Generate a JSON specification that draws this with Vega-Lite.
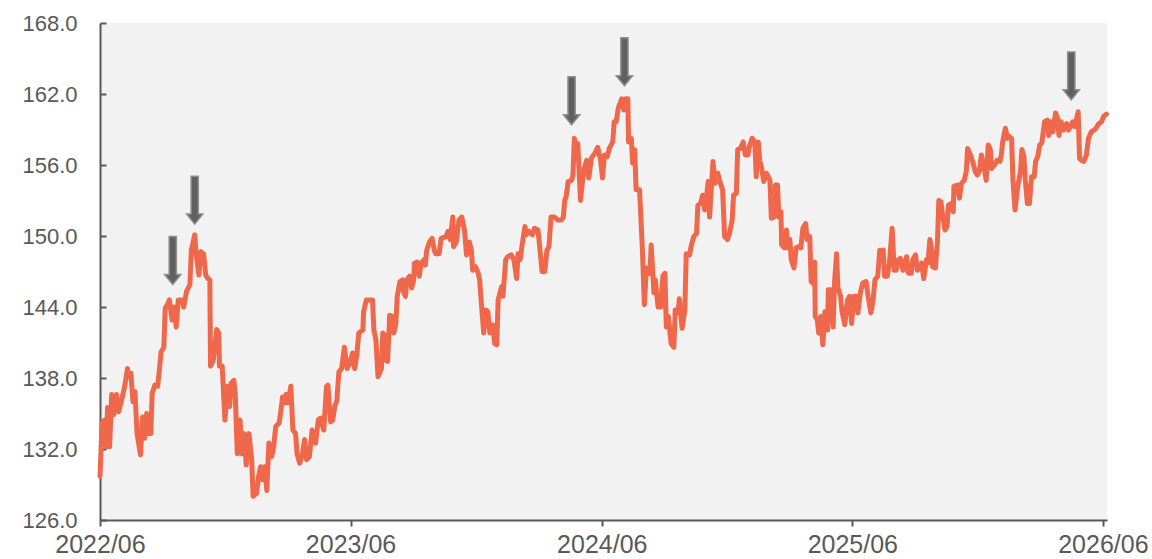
{
 "$schema": "https://vega.github.io/schema/vega-lite/v6.json",
 "width": 1007,
 "height": 497,
 "autosize": {"type": "none"},
 "padding": {"left": 100, "top": 23, "right": 45, "bottom": 39},
 "background": "white",
 "config": {"view": {"fill": "#f2f2f2", "stroke": null}, "font": "Liberation Sans"},
 "datasets": {
  "series": [
{"date":"2022-06-01","value":129.7},{"date":"2022-06-04","value":134.2},{"date":"2022-06-08","value":134.45},{"date":"2022-06-10","value":132.2},{"date":"2022-06-12","value":135.5},{"date":"2022-06-15","value":132.2},{"date":"2022-06-18","value":136.6},{"date":"2022-06-21","value":134.9},{"date":"2022-06-25","value":136.6},{"date":"2022-06-28","value":135.15},
{"date":"2022-07-02","value":136.0},{"date":"2022-07-07","value":137.3},{"date":"2022-07-11","value":138.8},{"date":"2022-07-13","value":138.1},{"date":"2022-07-16","value":138.4},{"date":"2022-07-19","value":136.0},{"date":"2022-07-22","value":136.85},{"date":"2022-07-25","value":133.3},{"date":"2022-07-30","value":131.5},
{"date":"2022-08-02","value":134.7},{"date":"2022-08-05","value":132.9},{"date":"2022-08-08","value":135.0},{"date":"2022-08-10","value":133.3},{"date":"2022-08-14","value":133.3},{"date":"2022-08-16","value":136.7},{"date":"2022-08-20","value":137.4},{"date":"2022-08-24","value":137.3},{"date":"2022-08-27","value":139.0},{"date":"2022-08-29","value":140.2},
{"date":"2022-09-02","value":140.6},{"date":"2022-09-04","value":143.9},{"date":"2022-09-08","value":144.3},{"date":"2022-09-10","value":144.6},{"date":"2022-09-14","value":142.9},{"date":"2022-09-17","value":144.0},{"date":"2022-09-20","value":142.3},{"date":"2022-09-23","value":144.6},{"date":"2022-09-28","value":144.6},
{"date":"2022-10-01","value":144.0},{"date":"2022-10-05","value":145.3},{"date":"2022-10-10","value":145.9},{"date":"2022-10-12","value":148.8},{"date":"2022-10-17","value":150.1},{"date":"2022-10-19","value":148.5},{"date":"2022-10-23","value":146.7},{"date":"2022-10-26","value":148.7},{"date":"2022-10-27","value":148.25},{"date":"2022-10-30","value":148.5},
{"date":"2022-11-02","value":146.7},{"date":"2022-11-05","value":146.4},{"date":"2022-11-08","value":146.3},{"date":"2022-11-09","value":139.0},{"date":"2022-11-13","value":139.5},{"date":"2022-11-18","value":142.1},{"date":"2022-11-21","value":141.8},{"date":"2022-11-22","value":139.0},{"date":"2022-11-26","value":139.0},{"date":"2022-11-30","value":134.45},
{"date":"2022-12-04","value":137.3},{"date":"2022-12-07","value":135.6},{"date":"2022-12-09","value":137.55},{"date":"2022-12-13","value":137.8},{"date":"2022-12-15","value":136.7},{"date":"2022-12-18","value":131.6},{"date":"2022-12-22","value":134.45},{"date":"2022-12-25","value":131.6},{"date":"2022-12-28","value":133.3},{"date":"2022-12-31","value":130.65},
{"date":"2023-01-04","value":133.3},{"date":"2023-01-08","value":131.1},{"date":"2023-01-10","value":128.0},{"date":"2023-01-15","value":128.25},{"date":"2023-01-18","value":129.65},{"date":"2023-01-21","value":130.5},{"date":"2023-01-24","value":129.4},{"date":"2023-01-27","value":130.5},{"date":"2023-01-30","value":128.5},
{"date":"2023-02-02","value":132.5},{"date":"2023-02-06","value":131.35},{"date":"2023-02-09","value":132.2},{"date":"2023-02-12","value":133.9},{"date":"2023-02-17","value":134.2},{"date":"2023-02-19","value":135.0},{"date":"2023-02-22","value":136.4},{"date":"2023-02-25","value":135.9},{"date":"2023-02-27","value":136.6},
{"date":"2023-03-02","value":135.9},{"date":"2023-03-06","value":137.3},{"date":"2023-03-09","value":133.6},{"date":"2023-03-13","value":133.3},{"date":"2023-03-15","value":131.6},{"date":"2023-03-19","value":130.8},{"date":"2023-03-23","value":131.6},{"date":"2023-03-26","value":132.8},{"date":"2023-03-29","value":131.1},
{"date":"2023-04-02","value":131.35},{"date":"2023-04-06","value":133.6},{"date":"2023-04-11","value":132.5},{"date":"2023-04-15","value":134.45},{"date":"2023-04-18","value":134.6},{"date":"2023-04-23","value":133.6},{"date":"2023-04-27","value":137.3},{"date":"2023-04-29","value":137.4},
{"date":"2023-05-03","value":134.3},{"date":"2023-05-06","value":134.45},{"date":"2023-05-09","value":135.6},{"date":"2023-05-12","value":136.1},{"date":"2023-05-15","value":138.5},{"date":"2023-05-19","value":138.8},{"date":"2023-05-23","value":140.6},{"date":"2023-05-27","value":138.8},{"date":"2023-05-31","value":139.25},
{"date":"2023-06-04","value":140.1},{"date":"2023-06-07","value":138.8},{"date":"2023-06-10","value":139.9},{"date":"2023-06-13","value":141.8},{"date":"2023-06-19","value":142.05},{"date":"2023-06-20","value":143.6},{"date":"2023-06-24","value":144.6},{"date":"2023-06-29","value":144.6},
{"date":"2023-07-03","value":144.6},{"date":"2023-07-05","value":142.05},{"date":"2023-07-08","value":141.2},{"date":"2023-07-11","value":138.1},{"date":"2023-07-16","value":138.8},{"date":"2023-07-18","value":141.8},{"date":"2023-07-21","value":141.6},{"date":"2023-07-23","value":139.5},{"date":"2023-07-25","value":139.4},{"date":"2023-07-28","value":143.3},
{"date":"2023-08-01","value":143.2},{"date":"2023-08-03","value":141.8},{"date":"2023-08-06","value":142.6},{"date":"2023-08-08","value":144.9},{"date":"2023-08-12","value":146.15},{"date":"2023-08-16","value":146.3},{"date":"2023-08-17","value":145.3},{"date":"2023-08-20","value":144.9},{"date":"2023-08-22","value":146.3},{"date":"2023-08-26","value":146.6},{"date":"2023-08-29","value":145.6},
{"date":"2023-09-01","value":146.3},{"date":"2023-09-02","value":147.7},{"date":"2023-09-06","value":147.8},{"date":"2023-09-09","value":146.6},{"date":"2023-09-12","value":147.7},{"date":"2023-09-16","value":148.0},{"date":"2023-09-18","value":147.55},{"date":"2023-09-20","value":148.8},{"date":"2023-09-24","value":149.5},{"date":"2023-09-28","value":149.8},
{"date":"2023-10-01","value":148.8},{"date":"2023-10-03","value":148.5},{"date":"2023-10-08","value":148.5},{"date":"2023-10-11","value":149.8},{"date":"2023-10-18","value":149.95},{"date":"2023-10-21","value":150.4},{"date":"2023-10-24","value":149.7},{"date":"2023-10-28","value":151.6},{"date":"2023-10-29","value":149.1},
{"date":"2023-11-02","value":149.5},{"date":"2023-11-06","value":151.35},{"date":"2023-11-10","value":151.6},{"date":"2023-11-14","value":150.5},{"date":"2023-11-17","value":148.4},{"date":"2023-11-21","value":149.5},{"date":"2023-11-24","value":148.8},{"date":"2023-11-26","value":147.1},{"date":"2023-11-30","value":147.4},
{"date":"2023-12-04","value":146.85},{"date":"2023-12-06","value":146.3},{"date":"2023-12-09","value":144.0},{"date":"2023-12-12","value":141.8},{"date":"2023-12-15","value":143.75},{"date":"2023-12-18","value":143.6},{"date":"2023-12-21","value":141.8},{"date":"2023-12-25","value":142.5},{"date":"2023-12-28","value":140.9},{"date":"2023-12-31","value":140.8},
{"date":"2024-01-02","value":144.6},{"date":"2024-01-07","value":145.7},{"date":"2024-01-09","value":144.9},{"date":"2024-01-13","value":148.0},{"date":"2024-01-16","value":148.25},{"date":"2024-01-21","value":148.4},{"date":"2024-01-25","value":148.0},{"date":"2024-01-29","value":146.4},{"date":"2024-01-31","value":148.5},
{"date":"2024-02-03","value":148.0},{"date":"2024-02-06","value":149.25},{"date":"2024-02-10","value":150.8},{"date":"2024-02-12","value":150.1},{"date":"2024-02-16","value":150.4},{"date":"2024-02-21","value":150.1},{"date":"2024-02-24","value":150.65},{"date":"2024-02-29","value":150.5},
{"date":"2024-03-02","value":149.4},{"date":"2024-03-06","value":147.0},{"date":"2024-03-10","value":147.0},{"date":"2024-03-13","value":148.8},{"date":"2024-03-16","value":149.1},{"date":"2024-03-19","value":151.6},{"date":"2024-03-24","value":151.6},{"date":"2024-03-29","value":151.35},
{"date":"2024-04-03","value":151.35},{"date":"2024-04-06","value":151.6},{"date":"2024-04-08","value":153.0},{"date":"2024-04-10","value":153.3},{"date":"2024-04-13","value":154.6},{"date":"2024-04-18","value":154.7},{"date":"2024-04-20","value":155.15},{"date":"2024-04-22","value":158.25},{"date":"2024-04-25","value":157.4},{"date":"2024-04-27","value":157.8},
{"date":"2024-05-01","value":153.0},{"date":"2024-05-04","value":154.7},{"date":"2024-05-07","value":155.85},{"date":"2024-05-10","value":156.4},{"date":"2024-05-13","value":154.9},{"date":"2024-05-17","value":156.6},{"date":"2024-05-22","value":157.0},{"date":"2024-05-26","value":157.5},{"date":"2024-05-30","value":156.5},
{"date":"2024-06-02","value":154.9},{"date":"2024-06-05","value":156.85},{"date":"2024-06-09","value":156.7},{"date":"2024-06-12","value":157.4},{"date":"2024-06-17","value":157.95},{"date":"2024-06-19","value":159.65},{"date":"2024-06-22","value":159.65},{"date":"2024-06-25","value":160.8},{"date":"2024-06-30","value":161.6},
{"date":"2024-07-03","value":160.65},{"date":"2024-07-06","value":161.6},{"date":"2024-07-09","value":161.6},{"date":"2024-07-10","value":157.95},{"date":"2024-07-14","value":158.25},{"date":"2024-07-16","value":156.15},{"date":"2024-07-19","value":157.3},{"date":"2024-07-21","value":153.9},{"date":"2024-07-26","value":153.9},{"date":"2024-07-30","value":149.1},
{"date":"2024-08-02","value":144.2},{"date":"2024-08-05","value":147.3},{"date":"2024-08-10","value":146.85},{"date":"2024-08-12","value":149.25},{"date":"2024-08-16","value":145.2},{"date":"2024-08-18","value":146.3},{"date":"2024-08-22","value":144.0},{"date":"2024-08-26","value":144.0},{"date":"2024-08-29","value":146.6},
{"date":"2024-09-01","value":146.85},{"date":"2024-09-03","value":142.3},{"date":"2024-09-06","value":143.2},{"date":"2024-09-10","value":140.9},{"date":"2024-09-14","value":140.6},{"date":"2024-09-16","value":143.75},{"date":"2024-09-20","value":143.5},{"date":"2024-09-22","value":144.7},{"date":"2024-09-26","value":142.2},{"date":"2024-09-30","value":143.75},
{"date":"2024-10-02","value":148.5},{"date":"2024-10-07","value":148.4},{"date":"2024-10-09","value":149.1},{"date":"2024-10-13","value":149.95},{"date":"2024-10-17","value":150.2},{"date":"2024-10-19","value":152.6},{"date":"2024-10-23","value":152.75},{"date":"2024-10-26","value":153.45},{"date":"2024-10-29","value":152.2},{"date":"2024-10-31","value":153.0},
{"date":"2024-11-03","value":154.6},{"date":"2024-11-05","value":151.6},{"date":"2024-11-08","value":154.45},{"date":"2024-11-10","value":156.3},{"date":"2024-11-13","value":154.45},{"date":"2024-11-17","value":155.3},{"date":"2024-11-20","value":154.6},{"date":"2024-11-24","value":153.9},{"date":"2024-11-27","value":149.95},
{"date":"2024-12-01","value":149.7},{"date":"2024-12-04","value":150.2},{"date":"2024-12-08","value":151.35},{"date":"2024-12-10","value":153.45},{"date":"2024-12-14","value":153.6},{"date":"2024-12-16","value":157.3},{"date":"2024-12-20","value":157.4},{"date":"2024-12-24","value":157.95},{"date":"2024-12-27","value":156.85},{"date":"2024-12-31","value":156.85},
{"date":"2025-01-02","value":157.55},{"date":"2025-01-06","value":158.25},{"date":"2025-01-10","value":157.95},{"date":"2025-01-12","value":155.0},{"date":"2025-01-15","value":157.95},{"date":"2025-01-17","value":156.4},{"date":"2025-01-20","value":155.7},{"date":"2025-01-23","value":154.6},{"date":"2025-01-27","value":155.3},
{"date":"2025-02-01","value":154.7},{"date":"2025-02-03","value":151.5},{"date":"2025-02-07","value":151.6},{"date":"2025-02-09","value":154.3},{"date":"2025-02-12","value":154.3},{"date":"2025-02-14","value":151.6},{"date":"2025-02-17","value":152.05},{"date":"2025-02-18","value":149.25},{"date":"2025-02-22","value":149.0},{"date":"2025-02-25","value":150.5},{"date":"2025-02-27","value":149.0},
{"date":"2025-03-02","value":149.7},{"date":"2025-03-04","value":148.0},{"date":"2025-03-08","value":147.3},{"date":"2025-03-11","value":149.0},{"date":"2025-03-14","value":149.1},{"date":"2025-03-18","value":149.0},{"date":"2025-03-21","value":150.65},{"date":"2025-03-25","value":151.05},{"date":"2025-03-27","value":149.7},{"date":"2025-03-31","value":149.95},
{"date":"2025-04-02","value":146.15},{"date":"2025-04-05","value":146.0},{"date":"2025-04-07","value":147.8},{"date":"2025-04-08","value":143.2},{"date":"2025-04-11","value":142.9},{"date":"2025-04-13","value":141.8},{"date":"2025-04-16","value":143.2},{"date":"2025-04-19","value":140.8},{"date":"2025-04-22","value":143.6},{"date":"2025-04-26","value":142.05},{"date":"2025-04-27","value":145.45},{"date":"2025-04-30","value":145.45},
{"date":"2025-05-04","value":142.3},{"date":"2025-05-06","value":146.0},{"date":"2025-05-09","value":148.5},{"date":"2025-05-11","value":145.6},{"date":"2025-05-15","value":144.9},{"date":"2025-05-17","value":143.6},{"date":"2025-05-21","value":142.5},{"date":"2025-05-25","value":144.6},{"date":"2025-05-28","value":144.9},{"date":"2025-05-31","value":142.6},
{"date":"2025-06-03","value":144.9},{"date":"2025-06-07","value":144.9},{"date":"2025-06-09","value":143.5},{"date":"2025-06-13","value":145.3},{"date":"2025-06-16","value":146.0},{"date":"2025-06-21","value":146.15},{"date":"2025-06-24","value":144.9},{"date":"2025-06-28","value":143.5},
{"date":"2025-07-01","value":144.45},{"date":"2025-07-04","value":146.3},{"date":"2025-07-08","value":146.6},{"date":"2025-07-11","value":148.8},{"date":"2025-07-13","value":148.7},{"date":"2025-07-16","value":148.8},{"date":"2025-07-18","value":146.6},{"date":"2025-07-22","value":146.6},{"date":"2025-07-25","value":147.7},{"date":"2025-07-29","value":150.65},
{"date":"2025-08-01","value":147.1},{"date":"2025-08-04","value":147.1},{"date":"2025-08-07","value":148.0},{"date":"2025-08-10","value":148.1},{"date":"2025-08-14","value":147.1},{"date":"2025-08-19","value":148.25},{"date":"2025-08-22","value":146.85},{"date":"2025-08-26","value":146.85},{"date":"2025-08-28","value":148.0},
{"date":"2025-09-01","value":148.4},{"date":"2025-09-04","value":147.1},{"date":"2025-09-07","value":147.4},{"date":"2025-09-10","value":147.7},{"date":"2025-09-13","value":146.4},{"date":"2025-09-17","value":148.0},{"date":"2025-09-19","value":147.7},{"date":"2025-09-22","value":149.7},{"date":"2025-09-24","value":149.1},{"date":"2025-09-26","value":147.4},{"date":"2025-09-30","value":147.3},
{"date":"2025-10-03","value":149.5},{"date":"2025-10-05","value":153.0},{"date":"2025-10-08","value":152.9},{"date":"2025-10-11","value":151.6},{"date":"2025-10-14","value":150.5},{"date":"2025-10-17","value":150.8},{"date":"2025-10-19","value":152.6},{"date":"2025-10-23","value":152.75},{"date":"2025-10-26","value":152.05},{"date":"2025-10-27","value":154.2},
{"date":"2025-11-01","value":154.3},{"date":"2025-11-04","value":153.2},{"date":"2025-11-07","value":154.45},{"date":"2025-11-11","value":154.7},{"date":"2025-11-14","value":155.45},{"date":"2025-11-16","value":157.4},{"date":"2025-11-20","value":156.85},{"date":"2025-11-24","value":156.15},{"date":"2025-11-27","value":155.45},{"date":"2025-11-30","value":155.15},
{"date":"2025-12-03","value":155.45},{"date":"2025-12-06","value":156.85},{"date":"2025-12-10","value":155.85},{"date":"2025-12-13","value":154.7},{"date":"2025-12-16","value":157.7},{"date":"2025-12-19","value":157.3},{"date":"2025-12-21","value":155.7},{"date":"2025-12-25","value":156.0},{"date":"2025-12-29","value":156.4},
{"date":"2026-01-02","value":156.3},{"date":"2026-01-04","value":156.85},{"date":"2026-01-06","value":157.95},{"date":"2026-01-10","value":159.1},{"date":"2026-01-13","value":158.25},{"date":"2026-01-16","value":158.4},{"date":"2026-01-19","value":158.25},{"date":"2026-01-21","value":154.7},{"date":"2026-01-24","value":152.2},{"date":"2026-01-28","value":154.2},
{"date":"2026-02-01","value":155.45},{"date":"2026-02-03","value":157.3},{"date":"2026-02-06","value":156.7},{"date":"2026-02-08","value":154.7},{"date":"2026-02-11","value":152.75},{"date":"2026-02-14","value":152.75},{"date":"2026-02-17","value":155.0},{"date":"2026-02-21","value":155.0},{"date":"2026-02-23","value":156.3},{"date":"2026-02-26","value":156.7},
{"date":"2026-03-01","value":157.7},{"date":"2026-03-04","value":157.85},{"date":"2026-03-08","value":159.65},{"date":"2026-03-12","value":159.8},{"date":"2026-03-14","value":158.5},{"date":"2026-03-17","value":159.65},{"date":"2026-03-20","value":158.8},{"date":"2026-03-24","value":160.4},{"date":"2026-03-27","value":159.95},{"date":"2026-03-29","value":158.5},
{"date":"2026-04-01","value":159.65},{"date":"2026-04-05","value":158.95},{"date":"2026-04-09","value":159.5},{"date":"2026-04-12","value":158.95},{"date":"2026-04-15","value":159.25},{"date":"2026-04-18","value":159.65},{"date":"2026-04-21","value":159.25},{"date":"2026-04-26","value":160.5},{"date":"2026-04-28","value":156.55},
{"date":"2026-05-01","value":156.4},{"date":"2026-05-04","value":156.3},{"date":"2026-05-08","value":156.85},{"date":"2026-05-11","value":158.25},{"date":"2026-05-15","value":158.8},{"date":"2026-05-19","value":158.95},{"date":"2026-05-22","value":159.1},{"date":"2026-05-26","value":159.5},{"date":"2026-05-30","value":159.65},
{"date":"2026-06-02","value":160.1},{"date":"2026-06-06","value":160.3}
  ],
  "arrows": [
   {"date":"2022-09-15","value":145.9},
   {"date":"2022-10-17","value":151.0},
   {"date":"2024-04-18","value":159.4},
   {"date":"2024-07-04","value":162.7},
   {"date":"2026-04-16","value":161.5}
  ]
 },
 "layer": [
  {
   "data": {"name": "series"},
   "mark": {"type": "line", "color": "#ef684b", "strokeWidth": 5, "strokeJoin": "round", "strokeCap": "round"},
   "encoding": {
    "x": {
     "field": "date", "type": "temporal",
     "scale": {"type": "utc", "domain": [{"year": 2022, "month": 6, "date": 1, "utc": true}, {"year": 2026, "month": 6, "date": 7, "utc": true}]},
     "axis": {
      "title": null, "grid": false,
      "values": [{"year": 2022, "month": 6, "date": 1, "utc": true}, {"year": 2023, "month": 6, "date": 1, "utc": true}, {"year": 2024, "month": 6, "date": 1, "utc": true}, {"year": 2025, "month": 6, "date": 1, "utc": true}, {"year": 2026, "month": 6, "date": 1, "utc": true}],
      "format": "%Y/%m",
      "labelFontSize": 25, "labelColor": "#595959", "labelPadding": 6, "labelFlush": false, "labelOverlap": false,
      "domainColor": "#595959", "domainWidth": 2, "tickColor": "#595959", "tickWidth": 2, "tickSize": 6
     }
    },
    "y": {
     "field": "value", "type": "quantitative",
     "scale": {"domain": [126, 168], "nice": false, "zero": false},
     "axis": {
      "title": null, "grid": false,
      "values": [126, 132, 138, 144, 150, 156, 162, 168],
      "format": ".1f",
      "labelFontSize": 22, "labelColor": "#595959", "labelPadding": 29,
      "domainColor": "#595959", "domainWidth": 2, "tickColor": "#595959", "tickWidth": 2, "tickSize": -6
     }
    }
   }
  },
  {
   "data": {"name": "arrows"},
   "mark": {"type": "point", "shape": "M -0.15 -2 L 0.15 -2 L 0.15 -0.42 L 0.34 -0.42 L 0 0 L -0.34 -0.42 L -0.15 -0.42 Z", "size": 2304, "filled": true, "fill": "#606060", "stroke": "#8f8f8f", "strokeWidth": 1.5, "opacity": 1},
   "encoding": {
    "x": {"field": "date", "type": "temporal"},
    "y": {"field": "value", "type": "quantitative"}
   }
  }
 ]
}
